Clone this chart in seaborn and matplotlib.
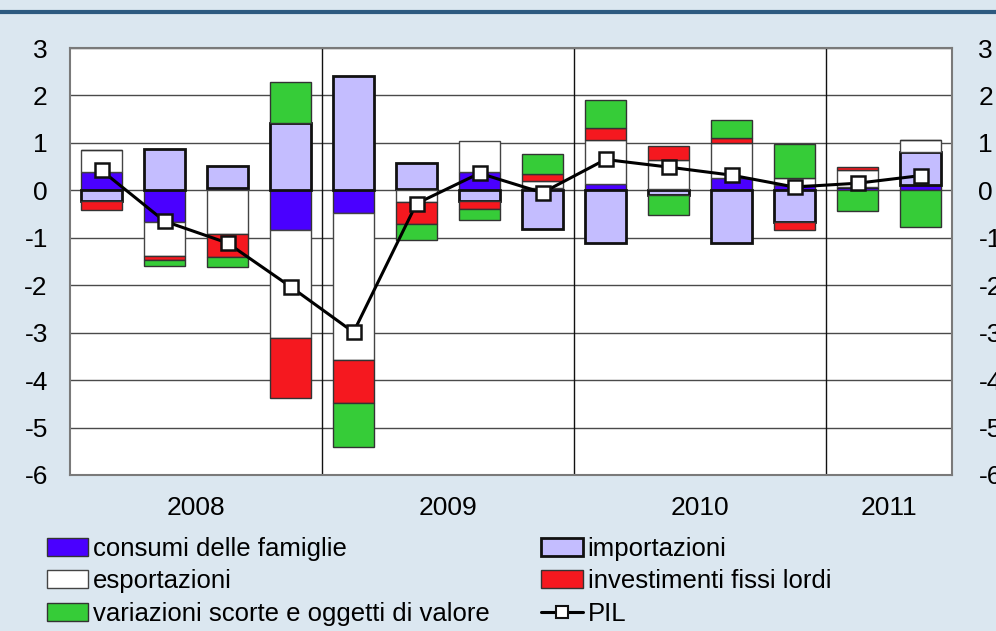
import numpy as np
import matplotlib
matplotlib.use("Agg")
import matplotlib.pyplot as plt
import seaborn as sns
from matplotlib.patches import Patch
from matplotlib.lines import Line2D
from matplotlib.transforms import blended_transform_factory

# contributi alla crescita del PIL (punti percentuali), trimestri 2008 T1 - 2011 T2
quarters = ["2008 T1", "2008 T2", "2008 T3", "2008 T4",
            "2009 T1", "2009 T2", "2009 T3", "2009 T4",
            "2010 T1", "2010 T2", "2010 T3", "2010 T4",
            "2011 T1", "2011 T2"]
years = ["2008", "2009", "2010", "2011"]
quarters_per_year = [4, 4, 4, 2]

consumi = [0.38, -0.67, 0.05, -0.83, -0.48, 0.03, 0.38, 0.04, 0.14, 0.03, 0.25, 0.12, 0.08, 0.12]
importazioni = [-0.22, 0.88, 0.47, 1.41, 2.42, 0.55, -0.22, -0.81, -1.12, -0.09, -1.11, -0.67, 0.0, 0.69]
esportazioni = [0.46, -0.72, -0.92, -2.28, -3.09, -0.25, 0.65, 0.15, 0.93, 0.60, 0.74, 0.13, 0.34, 0.26]
investimenti = [-0.19, -0.08, -0.48, -1.27, -0.92, -0.47, -0.17, 0.16, 0.25, 0.30, 0.11, -0.16, 0.08, 0.0]
variazioni = [0.0, -0.13, -0.22, 0.87, -0.93, -0.33, -0.23, 0.42, 0.59, -0.44, 0.38, 0.73, -0.44, -0.78]
pil = [0.42, -0.65, -1.11, -2.03, -2.99, -0.28, 0.36, -0.05, 0.65, 0.49, 0.32, 0.07, 0.15, 0.31]

BG = "#dbe7f0"
series = [
    ("consumi delle famiglie", consumi, "#4a00ff", "#333333", 1.0),
    ("importazioni", importazioni, "#c4bdff", "#111111", 2.0),
    ("esportazioni", esportazioni, "#ffffff", "#444444", 1.0),
    ("investimenti fissi lordi", investimenti, "#f5181f", "#333333", 1.0),
    ("variazioni scorte e oggetti di valore", variazioni, "#36cc38", "#333333", 1.0),
]

sns.set_theme(style="white")
plt.rcParams["font.family"] = ["Liberation Sans", "DejaVu Sans"]
plt.rcParams["axes.unicode_minus"] = False
plt.rcParams["text.color"] = "black"

fig = plt.figure(figsize=(9.96, 6.31), dpi=100, facecolor=BG)
ax = fig.add_axes([70 / 996, 1 - 475 / 631, 882 / 996, 427 / 631])
ax.set_facecolor("white")

# stacked bars: positives upward, negatives downward, in series order
pos_base = np.zeros(len(quarters))
neg_base = np.zeros(len(quarters))
for name, vals, color, edge, lw in series:
    vals = np.array(vals, dtype=float)
    bottoms = np.where(vals >= 0, pos_base, neg_base)
    sns.barplot(x=quarters, y=vals, bottom=bottoms, color=color, saturation=1,
                edgecolor=edge, linewidth=lw, width=0.65, errorbar=None,
                ax=ax, zorder=3)
    pos_base = pos_base + np.where(vals > 0, vals, 0)
    neg_base = neg_base + np.where(vals < 0, vals, 0)

sns.lineplot(x=np.arange(len(quarters)), y=pil, ax=ax, color="black", lw=2.2,
             marker="s", markersize=10, markerfacecolor="white",
             markeredgecolor="#111111", markeredgewidth=1.8, sort=False, zorder=5)

ax.set_xlim(-0.5, len(quarters) - 0.5)
ax.set_ylim(-6, 3)
ax.set_yticks(range(-6, 4))
ax.set_xticks([])
ax.set_xlabel("")
ax.set_ylabel("")
ax.yaxis.grid(True, color="#4a4a4a", lw=1.0, zorder=0)
ax.set_axisbelow(True)
ax.tick_params(axis="y", length=0, pad=16, labelsize=19, colors="black")
for sp in ax.spines.values():
    sp.set_color("#7a7a7a")
    sp.set_linewidth(1.5)

# separators between years and year labels
trans = blended_transform_factory(ax.transData, ax.transAxes)
start = 0
for i, (year, n) in enumerate(zip(years, quarters_per_year)):
    if i > 0:
        ax.axvline(start - 0.5, color="#111111", lw=1.0, zorder=1)
    ax.text(start + (n - 1) / 2, -0.078, year, transform=trans, ha="center",
            va="center", fontsize=19, color="black")
    start += n

ax2 = ax.twinx()
ax2.set_ylim(-6, 3)
ax2.set_yticks(range(-6, 4))
ax2.tick_params(axis="y", length=0, pad=19, labelsize=19, colors="black")
ax2.grid(False)
for sp in ax2.spines.values():
    sp.set_visible(False)

# top banner line
fig.add_artist(Line2D([0, 1], [1 - 12 / 631, 1 - 12 / 631], transform=fig.transFigure,
                      color="#2d5a80", lw=3))

handles = {name: Patch(facecolor=color, edgecolor=edge, linewidth=lw)
           for name, _, color, edge, lw in series}
handles["PIL"] = Line2D([], [], color="black", lw=2.2, marker="s", markersize=8,
                        markerfacecolor="white", markeredgecolor="#111111",
                        markeredgewidth=1.5)
order = ["consumi delle famiglie", "esportazioni", "variazioni scorte e oggetti di valore",
         "importazioni", "investimenti fissi lordi", "PIL"]
leg = fig.legend([handles[k] for k in order], order, loc="upper left",
                 bbox_to_anchor=(47 / 996, 1 - 537 / 631), ncol=2, frameon=False,
                 fontsize=18.5, handlelength=1.6, handleheight=0.7, handletextpad=0.2,
                 columnspacing=2.0, labelspacing=0.33, borderpad=0, borderaxespad=0)
for t in leg.get_texts():
    t.set_color("black")

fig.savefig("out.png", dpi=100, facecolor=BG)
